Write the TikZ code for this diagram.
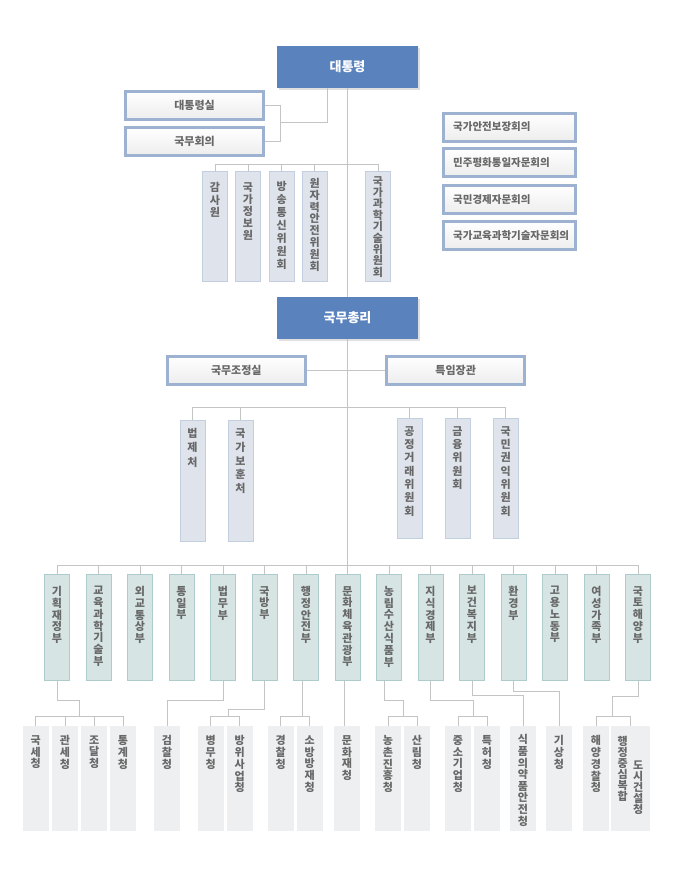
\documentclass[tikz,border=0pt]{standalone}
\usepackage{fontspec}
\setmainfont{Noto Sans CJK KR}
\usetikzlibrary{shadows}
\definecolor{topblue}{HTML}{5A83BE}
\definecolor{frameblue}{HTML}{9DB1D1}
\definecolor{txtgray}{HTML}{686868}
\definecolor{linegray}{HTML}{C4C4C4}
\definecolor{rtwofill}{HTML}{DEE3EC}
\definecolor{rtwodraw}{HTML}{C3CEDE}
\definecolor{minfill}{HTML}{D6E4E4}
\definecolor{mindraw}{HTML}{AECCCB}
\definecolor{agfill}{HTML}{EEEFF0}
\definecolor{subbot}{HTML}{EDEDED}
\def\vtx#1{\ifx\relax#1\else\hbox to 14pt{\hss#1\hss}\expandafter\vtx\fi}
\newcommand\vt[2]{\vbox{\baselineskip=#1\lineskiplimit=-100pt\lineskip=0pt\vtx#2\relax}}
\begin{document}
\begin{tikzpicture}[x=1pt,y=-1pt,
  conn/.style={draw=linegray, line width=1pt},
  topbox/.style={fill=topblue, minimum width=141pt, minimum height=42pt, inner sep=0pt, text=white,
    font=\bfseries\fontsize{13}{15}\selectfont,
    drop shadow={opacity=.25, shadow xshift=1.5pt, shadow yshift=-1.5pt}},
  subbox/.style={draw=frameblue, line width=3pt, top color=white, bottom color=subbot,
    minimum width=138pt, minimum height=28pt, inner sep=0pt, text=txtgray,
    font=\bfseries\fontsize{11}{13}\selectfont,
    drop shadow={opacity=.2, shadow xshift=1.5pt, shadow yshift=-1.5pt}},
  advbox/.style={subbox, minimum width=0pt, text width=112pt, inner xsep=10pt, inner ysep=0pt, align=left,
    font=\bfseries\fontsize{10.5}{12}\selectfont},
  lbl/.style={anchor=north, inner sep=0pt, text=txtgray, font=\bfseries\fontsize{11}{12}\selectfont},
  r2box/.style={fill=rtwofill, draw=rtwodraw, line width=1pt, minimum width=25pt, minimum height=110pt, inner sep=0pt},
  r3box/.style={fill=rtwofill, draw=rtwodraw, line width=1pt, minimum width=25pt, minimum height=120.7pt, inner sep=0pt},
  mibox/.style={fill=minfill, draw=mindraw, line width=1pt, minimum width=25pt, minimum height=105.7pt, inner sep=0pt},
  agbox/.style={fill=agfill, minimum width=26pt, minimum height=105pt, inner sep=0pt},
  r2/.style={r2box, label={[lbl,yshift=-11.5pt]north:\vt{12.5pt}{#1}}},
  r3/.style={r3box, label={[lbl,yshift=-8.5pt]north:\vt{13.3pt}{#1}}},
  mi/.style={mibox, label={[lbl,yshift=-12pt]north:\vt{11.8pt}{#1}}},
  ag/.style={agbox, label={[lbl,yshift=-10pt]north:\vt{11.7pt}{#1}}}
]
\useasboundingbox (0,0) rectangle (680,878);
\fill[white] (0,0) rectangle (680,878);

% top level
\node[topbox] (pres) at (347.5,67) {대통령};
\node[subbox] (office) at (194.5,105.5) {대통령실};
\node[subbox] (council) at (194.5,141.5) {국무회의};

\node[advbox] (adv1) at (509.2,127) {국가안전보장회의};
\node[advbox] (adv2) at (509.2,162.5) {민주평화통일자문회의};
\node[advbox] (adv3) at (509.2,199.5) {국민경제자문회의};
\node[advbox] (adv4) at (509.2,235.5) {국가교육과학기술자문회의};

% row 2
\node[r2=감사원] (b1) at (215,226.5) {};
\node[r2box, label={[lbl,yshift=-11.5pt]north:\vt{12pt}{국가정보원}}] (b2) at (248,226.5) {};
\node[r2box, label={[lbl,yshift=-10pt]north:\vt{13pt}{방송통신위원회}}] (b3) at (281.7,226.5) {};
\node[r2box, label={[lbl,yshift=-7pt]north:\vt{11.8pt}{원자력안전위원회}}] (b4) at (314.7,226.5) {};
\node[r2box, label={[lbl,yshift=-5pt]north:\vt{11.4pt}{국가과학기술위원회}}] (b5) at (378,226.5) {};

\node[topbox] (pm) at (347.5,318) {국무총리};
\node[subbox] (coord) at (236.3,370) {국무조정실};
\node[subbox] (special) at (455.7,370) {특임장관};

% row 3
\node[r3box, label={[lbl,yshift=-8pt]north:\vt{14.5pt}{법제처}}] (c1) at (192.5,480.85) {};
\node[r3box, label={[lbl,yshift=-8.5pt]north:\vt{13.8pt}{국가보훈처}}] (c2) at (240.5,480.85) {};
\node[r3=공정거래위원회] (c3) at (409.5,478.5) {};
\node[r3=금융위원회] (c4) at (457.5,478.5) {};
\node[r3=국민권익위원회] (c5) at (505.7,478.5) {};

% ministries
\node[mi=기획재정부] (m1) at (57,627.35) {};
\node[mi=교육과학기술부] (m2) at (98.5,627.35) {};
\node[mi=외교통상부] (m3) at (140,627.35) {};
\node[mi=통일부] (m4) at (181.5,627.35) {};
\node[mi=법무부] (m5) at (223,627.35) {};
\node[mi=국방부] (m6) at (264.5,627.35) {};
\node[mi=행정안전부] (m7) at (306,627.35) {};
\node[mi=문화체육관광부] (m8) at (347.5,627.35) {};
\node[mi=농림수산식품부] (m9) at (389,627.35) {};
\node[mi=지식경제부] (m10) at (430.5,627.35) {};
\node[mi=보건복지부] (m11) at (472,627.35) {};
\node[mi=환경부] (m12) at (513.5,627.35) {};
\node[mi=고용노동부] (m13) at (555,627.35) {};
\node[mi=여성가족부] (m14) at (596.5,627.35) {};
\node[mi=국토해양부] (m15) at (638,627.35) {};

% agencies
\node[ag=국세청] (a1) at (35.8,778.2) {};
\node[ag=관세청] (a2) at (65,778.2) {};
\node[ag=조달청] (a3) at (94.2,778.2) {};
\node[ag=통계청] (a4) at (123,778.2) {};
\node[ag=검찰청] (a5) at (167,778.2) {};
\node[ag=병무청] (a6) at (210.8,778.2) {};
\node[ag=방위사업청] (a7) at (239.7,778.2) {};
\node[ag=경찰청] (a8) at (280.8,778.2) {};
\node[ag=소방방재청] (a9) at (309.7,778.2) {};
\node[ag=문화재청] (a10) at (347,778.2) {};
\node[ag=농촌진흥청] (a11) at (388,778.2) {};
\node[ag=산림청] (a12) at (417,778.2) {};
\node[ag=중소기업청] (a13) at (458,778.2) {};
\node[ag=특허청] (a14) at (487,778.2) {};
\node[agbox, label={[lbl,yshift=-9pt]north:\vt{11.6pt}{식품의약품안전청}}] (a15) at (523,778.2) {};
\node[ag=기상청] (a16) at (559,778.2) {};
\node[ag=해양경찰청] (a17) at (596,778.2) {};
\node[agbox, minimum width=39pt,
  label={[lbl,xshift=-7.8pt,yshift=-10.5pt]north:\vt{11pt}{행정중심복합}},
  label={[lbl,xshift=7.8pt,yshift=-35pt]north:\vt{11pt}{도시건설청}}] (a18) at (630.5,778.2) {};

% level coordinates
\coordinate (bus2) at (0,164);
\coordinate (h1227) at (0,122.7);
\coordinate (kx) at (280,0);
\coordinate (bus3) at (0,407.3);
\coordinate (bus4) at (0,565);
\coordinate (h700) at (0,700);
\coordinate (h7007) at (0,700.7);
\coordinate (h709) at (0,709.3);
\coordinate (h696) at (0,696);
\coordinate (h6957) at (0,695.7);
\coordinate (h6917) at (0,691.7);
\coordinate (bus5) at (0,716.7);
\coordinate (v1) at (79.3,0);
\coordinate (v6) at (228.3,0);
\coordinate (v9) at (403.3,0);
\coordinate (v10) at (473.3,0);
\coordinate (v15) at (612.7,0);

\begin{scope}[on background layer/.style={}]
% president connectors
\draw[conn] ([xshift=-19.8pt]pres.south) -- ([xshift=-19.8pt]pres.south |- h1227) -- (kx |- h1227);
\draw[conn] (office.east) -| (kx |- council.east) -- (council.east);
\draw[conn] (pres.south) -- (pm.north);
\draw[conn] (b1.north) -- (b1.north |- bus2) -- (b5.north |- bus2) -- (b5.north);
\foreach \n in {b2,b3,b4} \draw[conn] (\n.north) -- (\n.north |- bus2);

% prime minister connectors
\draw[conn] (pm.south) -- (pm.south |- bus4);
\draw[conn] (coord.east) -- (special.west);
\draw[conn] (c1.north) -- (c1.north |- bus3) -- (c5.north |- bus3) -- (c5.north);
\foreach \n in {c2,c3,c4} \draw[conn] (\n.north) -- (\n.north |- bus3);

% ministries bus
\draw[conn] (m1.north) -- (m1.north |- bus4) -- (m15.north |- bus4) -- (m15.north);
\foreach \n in {m2,m3,m4,m5,m6,m7,m8,m9,m10,m11,m12,m13,m14} \draw[conn] (\n.north) -- (\n.north |- bus4);

% ministries to agencies
\draw[conn] (m1.south) -- (m1.south |- h700) -- (v1 |- h700) -- (v1 |- bus5);
\draw[conn] (a1.north) -- (a1.north |- bus5) -- (a4.north |- bus5) -- (a4.north);
\foreach \n in {a2,a3} \draw[conn] (\n.north) -- (\n.north |- bus5);
\draw[conn] (m5.south) -- (m5.south |- h700) -| (a5.north);
\draw[conn] (m6.south) -- (m6.south |- h709) -- (v6 |- h709) -- (v6 |- bus5);
\draw[conn] (a6.north) |- (a7.north |- bus5) -- (a7.north);
\draw[conn] ([xshift=-3.5pt]m7.south) -- ([xshift=-3.5pt]m7.south |- bus5);
\draw[conn] (a8.north) |- (a9.north |- bus5) -- (a9.north);
\draw[conn] ([xshift=-3pt]m8.south) -- ([xshift=-3pt]m8.south |- a10.north);
\draw[conn] ([xshift=-4.5pt]m9.south) -- ([xshift=-4.5pt]m9.south |- h7007) -- (v9 |- h7007) -- (v9 |- bus5);
\draw[conn] (a11.north) |- (a12.north |- bus5) -- (a12.north);
\draw[conn] (m10.south) -- (m10.south |- h7007) -- (v10 |- h7007) -- (v10 |- bus5);
\draw[conn] (a13.north) |- (a14.north |- bus5) -- (a14.north);
\draw[conn] (m11.south) -- (m11.south |- h6957) -| (a15.north);
\draw[conn] (m12.south) -- (m12.south |- h6917) -| (a16.north);
\draw[conn] (m15.south) -- (m15.south |- h696) -- (v15 |- h696) -- (v15 |- bus5);
\draw[conn] (a17.north) |- (a18.north |- bus5) -- (a18.north);
\end{scope}
\end{tikzpicture}
\end{document}
